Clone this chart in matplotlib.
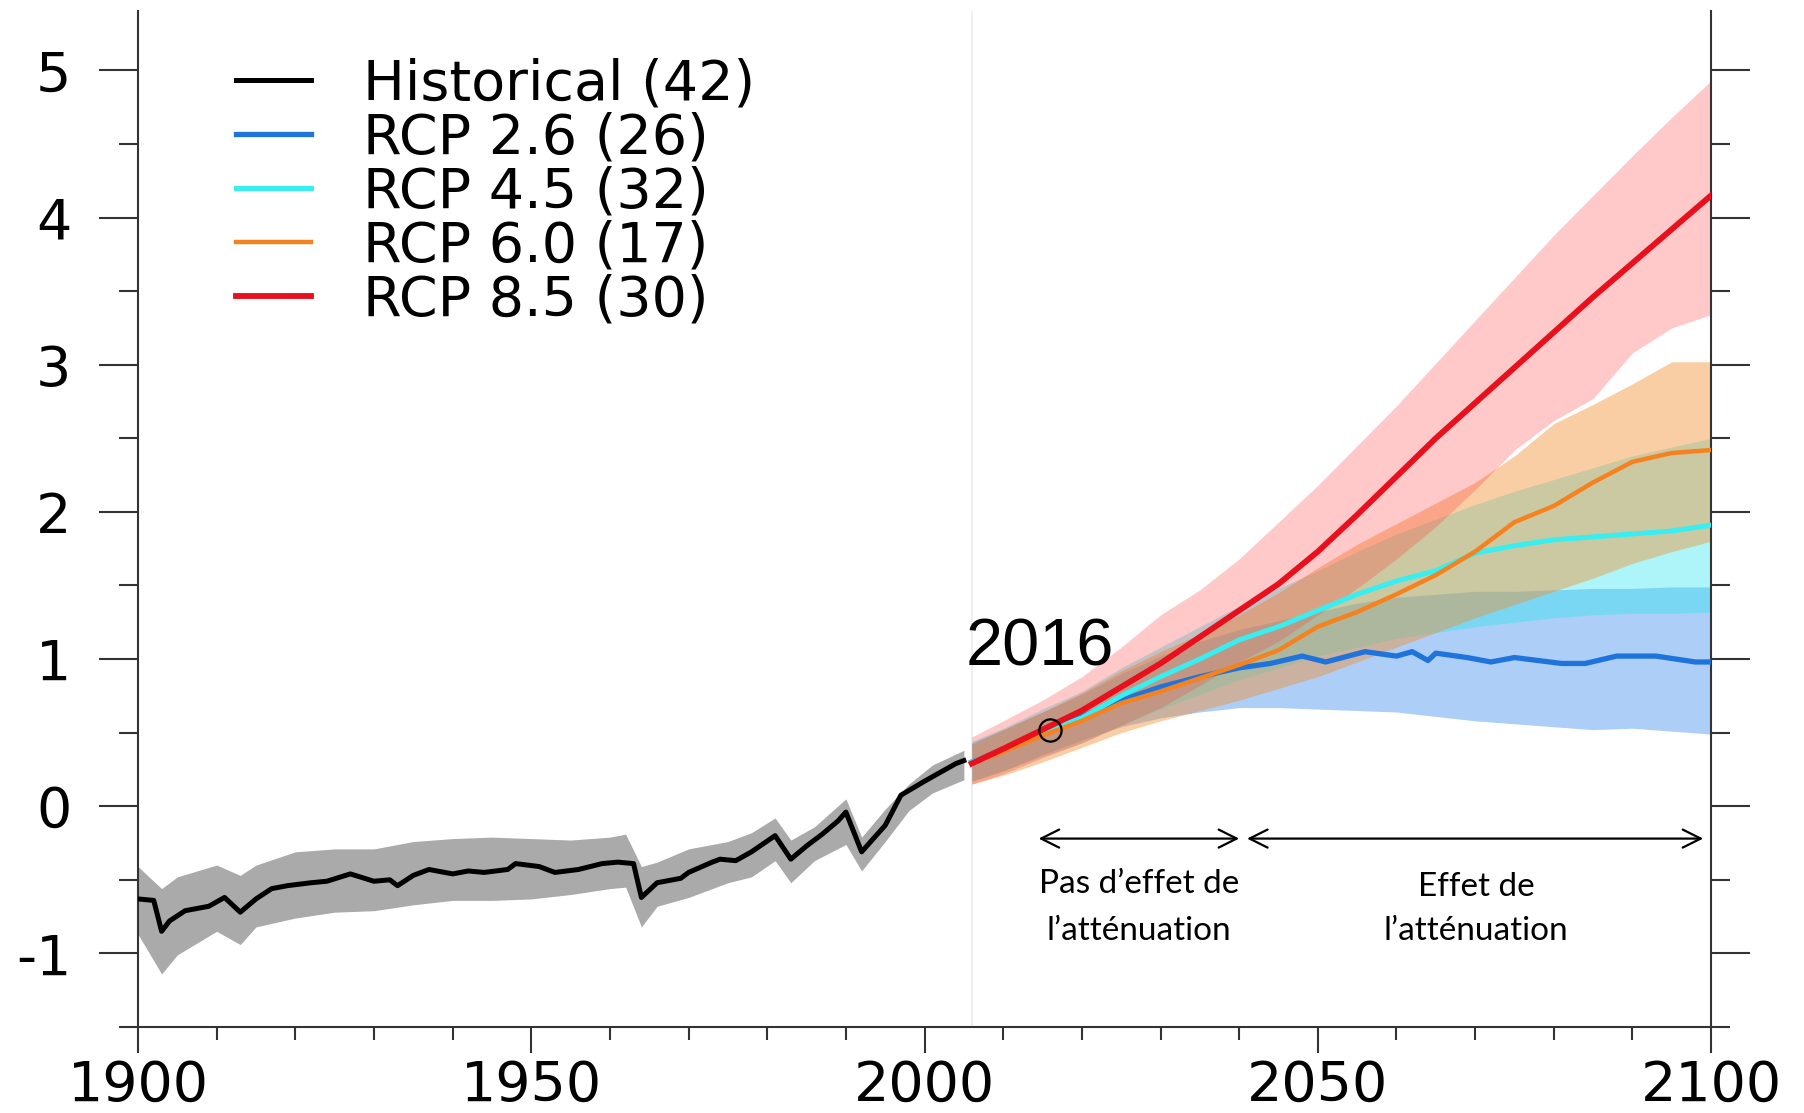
import matplotlib
matplotlib.use("Agg")
import matplotlib.pyplot as plt
from matplotlib.ticker import MultipleLocator

plt.rcParams['font.family'] = ['DejaVu Sans']
plt.rcParams['axes.unicode_minus'] = False

# historical multi-model mean (1900-2005)
hist_years = [1900, 1902, 1903, 1904, 1906, 1909, 1911, 1913, 1915, 1917, 1919, 1922,
              1924, 1927, 1930, 1932, 1933, 1935, 1937, 1940, 1942, 1944, 1947, 1948,
              1951, 1953, 1956, 1959, 1961, 1963, 1964, 1966, 1969, 1970, 1973, 1974,
              1976, 1978, 1981, 1983, 1985, 1987, 1989, 1990, 1992, 1995, 1997, 2000,
              2002, 2004, 2005]
hist_mean = [-0.63, -0.64, -0.85, -0.78, -0.71, -0.68, -0.62, -0.72, -0.63, -0.56, -0.54, -0.52,
             -0.51, -0.46, -0.51, -0.50, -0.54, -0.47, -0.43, -0.46, -0.44, -0.45, -0.43, -0.39,
             -0.41, -0.45, -0.43, -0.39, -0.38, -0.39, -0.62, -0.52, -0.49, -0.45, -0.38, -0.36,
             -0.37, -0.31, -0.20, -0.36, -0.27, -0.19, -0.10, -0.04, -0.31, -0.13, 0.075, 0.17,
             0.23, 0.29, 0.31]

# historical model spread
hist_band_years = [1900, 1903, 1905, 1910, 1913, 1915, 1920, 1925, 1930, 1935, 1940, 1945,
                   1950, 1955, 1960, 1962, 1964, 1966, 1970, 1975, 1978, 1981, 1983, 1986,
                   1990, 1992, 1995, 1998, 2001, 2005]
hist_upper = [-0.41, -0.56, -0.48, -0.40, -0.47, -0.40, -0.31, -0.29, -0.29, -0.24, -0.22, -0.21,
              -0.22, -0.23, -0.21, -0.19, -0.41, -0.38, -0.29, -0.24, -0.18, -0.08, -0.23, -0.14,
              0.05, -0.21, -0.02, 0.15, 0.28, 0.38]
hist_lower = [-0.87, -1.14, -1.01, -0.85, -0.94, -0.82, -0.76, -0.72, -0.71, -0.67, -0.64, -0.64,
              -0.63, -0.60, -0.56, -0.55, -0.82, -0.68, -0.62, -0.52, -0.48, -0.37, -0.52, -0.37,
              -0.26, -0.44, -0.24, -0.03, 0.09, 0.18]

# scenario projections (2006-2100)
proj_years = [2006, 2010, 2015, 2020, 2025, 2030, 2035, 2040, 2045, 2050,
              2055, 2060, 2065, 2070, 2075, 2080, 2085, 2090, 2095, 2100]

rcp85_mean = [0.29, 0.39, 0.52, 0.65, 0.81, 0.97, 1.15, 1.33, 1.51, 1.73,
              1.98, 2.24, 2.50, 2.74, 2.98, 3.22, 3.46, 3.69, 3.92, 4.15]
rcp85_upper = [0.47, 0.58, 0.72, 0.88, 1.08, 1.30, 1.47, 1.68, 1.93, 2.18,
               2.45, 2.72, 3.01, 3.30, 3.59, 3.88, 4.15, 4.42, 4.68, 4.93]
rcp85_lower = [0.15, 0.22, 0.33, 0.43, 0.55, 0.67, 0.82, 0.98, 1.12, 1.30,
               1.48, 1.68, 1.90, 2.15, 2.42, 2.62, 2.77, 3.08, 3.25, 3.34]

rcp60_mean = [0.29, 0.37, 0.48, 0.58, 0.70, 0.78, 0.87, 0.96, 1.06, 1.22,
              1.32, 1.44, 1.57, 1.73, 1.93, 2.04, 2.20, 2.34, 2.40, 2.42]
rcp60_upper = [0.42, 0.52, 0.64, 0.77, 0.92, 1.05, 1.17, 1.30, 1.45, 1.62,
               1.78, 1.92, 2.06, 2.20, 2.38, 2.60, 2.73, 2.87, 3.02, 3.02]
rcp60_lower = [0.15, 0.21, 0.30, 0.40, 0.50, 0.58, 0.65, 0.72, 0.80, 0.88,
               0.98, 1.08, 1.18, 1.28, 1.37, 1.46, 1.55, 1.65, 1.73, 1.80]

rcp45_mean = [0.30, 0.38, 0.50, 0.60, 0.75, 0.88, 1.00, 1.13, 1.22, 1.33,
              1.44, 1.53, 1.60, 1.72, 1.77, 1.81, 1.83, 1.85, 1.87, 1.91]
rcp45_upper = [0.44, 0.53, 0.66, 0.78, 0.94, 1.08, 1.22, 1.36, 1.48, 1.60,
               1.73, 1.85, 1.95, 2.05, 2.14, 2.22, 2.30, 2.38, 2.44, 2.50]
rcp45_lower = [0.17, 0.24, 0.34, 0.43, 0.55, 0.66, 0.76, 0.86, 0.94, 1.02,
               1.08, 1.14, 1.18, 1.22, 1.25, 1.28, 1.30, 1.31, 1.31, 1.32]

rcp26_upper = [0.43, 0.52, 0.64, 0.76, 0.90, 1.02, 1.12, 1.20, 1.26, 1.32,
               1.38, 1.42, 1.44, 1.46, 1.46, 1.47, 1.48, 1.48, 1.49, 1.49]
rcp26_lower = [0.17, 0.24, 0.35, 0.45, 0.54, 0.60, 0.64, 0.67, 0.67, 0.66,
               0.65, 0.64, 0.61, 0.58, 0.56, 0.54, 0.52, 0.53, 0.51, 0.49]
rcp26_years = [2006, 2010, 2015, 2020, 2025, 2030, 2035, 2040, 2044, 2048, 2051, 2056,
               2060, 2062, 2064, 2065, 2069, 2072, 2075, 2081, 2084, 2088, 2093, 2098, 2100]
rcp26_mean = [0.30, 0.38, 0.50, 0.61, 0.72, 0.81, 0.88, 0.94, 0.97, 1.02, 0.98, 1.05,
              1.02, 1.05, 0.99, 1.04, 1.01, 0.98, 1.01, 0.97, 0.97, 1.02, 1.02, 0.98, 0.98]

labels = ['Historical (42)', 'RCP 2.6 (26)', 'RCP 4.5 (32)', 'RCP 6.0 (17)', 'RCP 8.5 (30)']
marked_year, marked_value = 2016, 0.52

fig = plt.figure(figsize=(18.04, 11.13), dpi=100)
ax = fig.add_axes([0.0765, 0.0773, 0.872, 0.9124])

# faint separator at the start of the projections
ax.axvline(2006, color='#ececec', lw=1.2, zorder=0)

ax.fill_between(hist_band_years, hist_lower, hist_upper, color='#aaaaaa', lw=0, zorder=1)
ax.fill_between(proj_years, rcp26_lower, rcp26_upper, color=(0.24, 0.55, 0.92), alpha=0.42, lw=0, zorder=1)
ax.fill_between(proj_years, rcp45_lower, rcp45_upper, color=(0.16, 0.90, 0.94), alpha=0.38, lw=0, zorder=1)
ax.fill_between(proj_years, rcp60_lower, rcp60_upper, color=(0.96, 0.55, 0.16), alpha=0.42, lw=0, zorder=1)
ax.fill_between(proj_years, rcp85_lower, rcp85_upper, color=(1.0, 0.24, 0.24), alpha=0.28, lw=0, zorder=1)

h_hist, = ax.plot(hist_years, hist_mean, color='black', lw=3.6, zorder=3)
h26, = ax.plot(rcp26_years, rcp26_mean, color='#1f74dc', lw=3.8, zorder=3)
h45, = ax.plot(proj_years, rcp45_mean, color='#38eef0', lw=3.6, zorder=3)
h60, = ax.plot(proj_years, rcp60_mean, color='#f5821e', lw=3.2, zorder=3)
h85, = ax.plot(proj_years, rcp85_mean, color='#e8101c', lw=4.2, zorder=4)

ax.plot([marked_year], [marked_value], 'o', ms=16, mfc='none', mec='black', mew=1.6, zorder=5)
ax.text(2014.6, 1.07, str(marked_year), fontsize=48, family='Liberation Sans',
        ha='center', va='center', zorder=6)

# periods with and without mitigation effect
arrow = dict(arrowstyle='<->,head_length=1.3,head_width=0.65', color='black', lw=1.6,
             shrinkA=0, shrinkB=0)
ax.annotate('', xy=(2014.5, -0.22), xytext=(2040, -0.22), arrowprops=arrow)
ax.annotate('', xy=(2041, -0.22), xytext=(2099, -0.22), arrowprops=arrow)
note = dict(fontsize=24, family='Lato', ha='center', va='center')
ax.text(2027.3, -0.53, 'Pas d’effet de', **note)
ax.text(2027.3, -0.85, 'l’atténuation', **note)
ax.text(2070.1, -0.55, 'Effet de', **note)
ax.text(2070.1, -0.85, 'l’atténuation', **note)

ax.set_xlim(1900, 2100)
ax.set_ylim(-1.5, 5.4)
ax.spines['top'].set_visible(False)
for side in ['left', 'right', 'bottom']:
    ax.spines[side].set_color('#333333')
    ax.spines[side].set_linewidth(1.5)

ax.xaxis.set_major_locator(MultipleLocator(50))
ax.xaxis.set_minor_locator(MultipleLocator(10))
ax.yaxis.set_major_locator(MultipleLocator(1))
ax.yaxis.set_minor_locator(MultipleLocator(0.5))
ax.xaxis.set_tick_params(which='major', direction='out', length=19, width=1.5,
                         color='#333333', labelsize=40, pad=4)
ax.xaxis.set_tick_params(which='minor', direction='out', length=9.5, width=1.5, color='#333333')
ax.yaxis.set_tick_params(which='major', direction='out', length=28, width=1.5,
                         color='#333333', labelsize=40, pad=20, left=True, right=True,
                         labelright=False)
ax.yaxis.set_tick_params(which='minor', direction='out', length=14, width=1.5,
                         color='#333333', left=True, right=True)

ax.legend([h_hist, h26, h45, h60, h85], labels, loc='upper left',
          bbox_to_anchor=(0.062, 0.955), frameon=False, fontsize=40,
          handlelength=1.35, handletextpad=0.95, labelspacing=0.0,
          borderaxespad=0, borderpad=0)

fig.savefig('out.png', dpi=100)
